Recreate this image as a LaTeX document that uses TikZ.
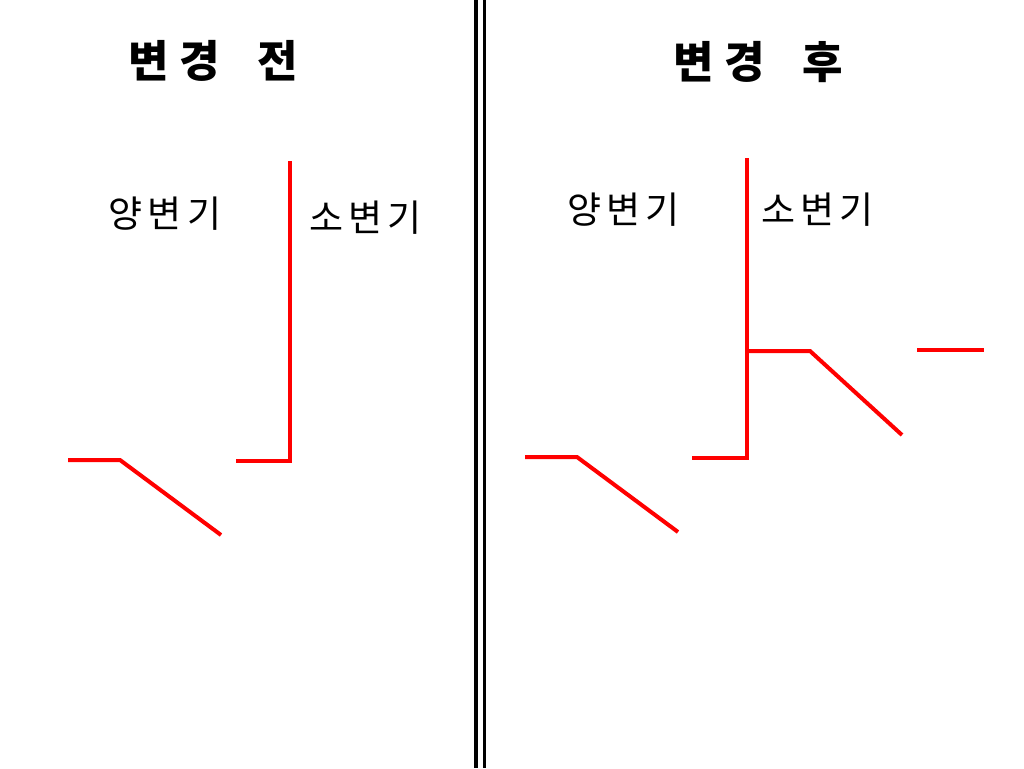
\documentclass[tikz,border=0pt]{standalone}
\usepackage{fontspec}
\newfontfamily\kr{Noto Sans CJK KR}
\begin{document}
\begin{tikzpicture}[x=1pt,y=-1pt,
  redline/.style={draw=red,line width=4pt},
  divider/.style={draw=black,line width=3.7pt},
  titletext/.style={font=\kr\bfseries\fontsize{44}{50}\selectfont,inner sep=0pt,anchor=center},
  labeltext/.style={font=\kr\fontsize{37}{42}\selectfont,inner sep=0pt,anchor=center}]
\useasboundingbox[fill=white] (0,0) rectangle (1024,768);
% divider
\coordinate (d1t) at (476,0); \coordinate (d1b) at (476,768);
\coordinate (d2t) at (484.5,0); \coordinate (d2b) at (484.5,768);
\draw[divider] (d1t) -- (d1b);
\draw[divider] (d2t) -- (d2b);
% titles
\node[titletext] (tl) at (213.5,61) {변\hspace{10pt}경\hspace{38pt}전};
\node[titletext] (tr) at (758.5,62) {변\hspace{10pt}경\hspace{38pt}후};
% labels
\node[labeltext] (l1) at (165,213.5) {양\hspace{5pt}변\hspace{5pt}기};
\node[labeltext] (l2) at (365.5,218) {소\hspace{5pt}변\hspace{5pt}기};
\node[labeltext] (r1) at (623.5,210) {양\hspace{5pt}변\hspace{5pt}기};
\node[labeltext] (r2) at (817.5,210) {소\hspace{5pt}변\hspace{5pt}기};
% left red lines
\coordinate (a1) at (68,460); \coordinate (a2) at (120,460); \coordinate (a3) at (221,535);
\draw[redline] (a1) -- (a2) -- (a3);
\coordinate (b1) at (236,461); \coordinate (b2) at (290,461); \coordinate (b3) at (290,161);
\draw[redline] (b1) -- (b2) -- (b3);
% right red lines
\coordinate (c1) at (525,457); \coordinate (c2) at (577,457); \coordinate (c3) at (678,532);
\draw[redline] (c1) -- (c2) -- (c3);
\coordinate (e1) at (692,458); \coordinate (e2) at (747,458); \coordinate (e3) at (747,158);
\draw[redline] (e1) -- (e2) -- (e3);
\coordinate (f1) at (747,351); \coordinate (f2) at (810,351); \coordinate (f3) at (902,435);
\draw[redline] (f1) -- (f2) -- (f3);
\coordinate (g1) at (917,350); \coordinate (g2) at (984,350);
\draw[redline] (g1) -- (g2);
\end{tikzpicture}
\end{document}
